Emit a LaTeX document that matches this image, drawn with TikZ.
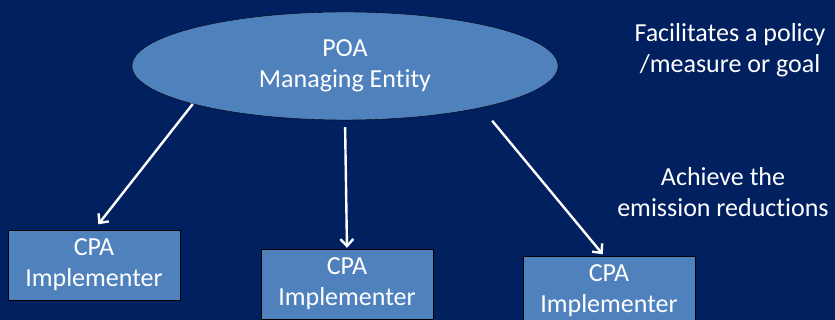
\documentclass[tikz,border=0pt]{standalone}
\usepackage{fontspec}
\setmainfont{Carlito}[Ligatures=NoCommon]
\usepackage{xcolor}
\usepackage{tikz}
\usetikzlibrary{shapes.geometric, arrows.meta}

\definecolor{slidebg}{HTML}{002060}
\definecolor{shapefill}{HTML}{4F81BD}

\tikzset{
  entity/.style={ellipse, draw=black, thin, fill=shapefill, text=white,
    minimum width=426pt, minimum height=108pt, inner sep=0pt, align=center},
  implbox/.style={rectangle, draw=black, thin, fill=shapefill, text=white,
    minimum width=172pt, minimum height=70pt, inner sep=0pt, align=center},
  note/.style={text=white, align=center, inner sep=0pt},
  arr/.style={draw=white, line width=2.4pt, -{Straight Barb[length=7pt,width=13pt,line width=2.4pt]}}
}

\begin{document}
\begin{tikzpicture}[x=1pt, y=1pt] \fontsize{26}{31}\selectfont
            \useasboundingbox (0,0) rectangle (835,320);
            \clip (0,0) rectangle (835,320);
            \fill [slidebg] (0,0) rectangle (835,320);      % slide background
            \node [entity] (poa) at (345,254) {\raisebox{4pt}{\begin{tabular}{@{}c@{}}POA\\Managing Entity\end{tabular}}};     % managing entity
            \node [implbox] (cpa1) at (94,55) {CPA\\Implementer};        % left implementer
            \node [implbox] (cpa2) at (347,36) {CPA\\Implementer};       % middle implementer
            \node [implbox] (cpa3) at (609,29) {CPA\\Implementer};       % right implementer
            \node [note] (goal) at (730,270) {Facilitates a policy\\/measure or goal};
            \node [note] (reduce) at (723,128) {Achieve the\\emission reductions};
            \draw [arr, shorten >=7pt] (poa.194) -- (cpa1.north);          % to left
            \draw [arr, shorten <=7pt, shorten >=1pt] (poa.south) -- (cpa2.north);   % to middle
            \draw [arr, shorten <=17pt, shorten >=2pt] (poa.-17) -- ([xshift=-5pt]cpa3.north); % to right
    \end{tikzpicture}
\end{document}
